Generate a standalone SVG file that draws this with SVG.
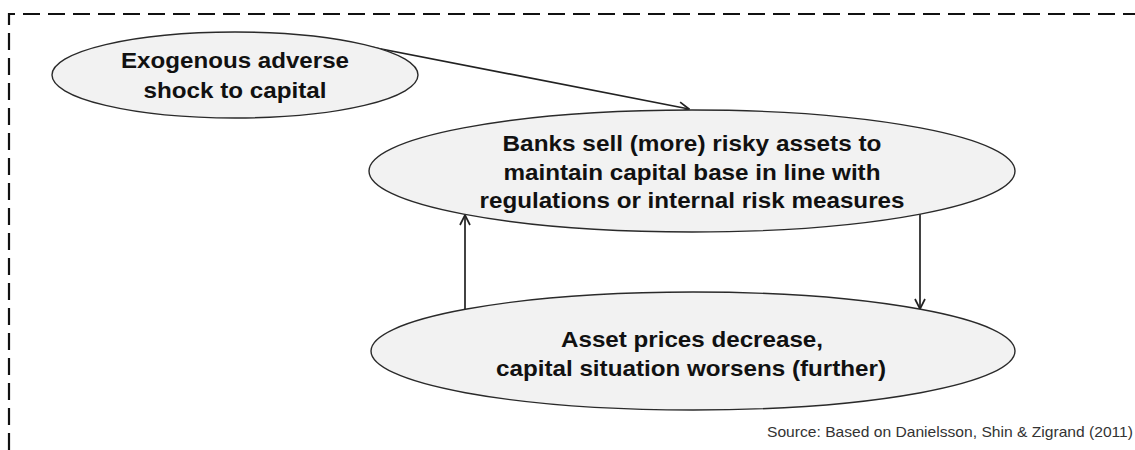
<svg xmlns="http://www.w3.org/2000/svg" width="1135" height="450" viewBox="0 0 1135 450">
  <style>
    .node ellipse { fill: #f2f2f2; stroke: #2a2a2a; stroke-width: 1.4; }
    .label { font-family: "Liberation Sans", Arial, sans-serif; font-size: 22px; font-weight: bold; fill: #111; text-anchor: middle; }
    .edge { stroke: #222; stroke-width: 1.7; fill: none; }
    .frame { stroke: #111; stroke-width: 2.2; fill: none; stroke-dasharray: 17 8; }
    .source { font-family: "Liberation Sans", Arial, sans-serif; font-size: 15px; fill: #333; text-anchor: end; }
  </style>
  <defs>
    <marker id="arrow" markerUnits="userSpaceOnUse" markerWidth="12" markerHeight="12" viewBox="0 0 12 12" refX="11" refY="6" orient="auto">
      <path d="M1,1 L11,6 L1,11" fill="none" stroke="#222" stroke-width="1.7"/>
    </marker>
  </defs>

  <rect width="1135" height="450" fill="#fff"/>

  <!-- dashed frame: left and top sides -->
  <path class="frame" d="M9,450 L9,14 L1135,14"/>

  <g id="connectors">
    <line class="edge" x1="330" y1="39" x2="689" y2="109" marker-end="url(#arrow)"/>
    <line class="edge" x1="920" y1="213" x2="920" y2="309" marker-end="url(#arrow)"/>
    <line class="edge" x1="465" y1="310" x2="465" y2="215" marker-end="url(#arrow)"/>
  </g>

  <g id="shock" class="node">
    <ellipse cx="235" cy="75" rx="183" ry="43"/>
    <text class="label" x="235" y="68" textLength="228" lengthAdjust="spacingAndGlyphs">Exogenous adverse</text>
    <text class="label" x="235" y="98" textLength="183" lengthAdjust="spacingAndGlyphs">shock to capital</text>
  </g>

  <g id="banks-sell" class="node">
    <ellipse cx="692" cy="171" rx="323" ry="61"/>
    <text class="label" x="692" y="151" textLength="379" lengthAdjust="spacingAndGlyphs">Banks sell (more) risky assets to</text>
    <text class="label" x="692" y="180" textLength="377" lengthAdjust="spacingAndGlyphs">maintain capital base in line with</text>
    <text class="label" x="692" y="208" textLength="425" lengthAdjust="spacingAndGlyphs">regulations or internal risk measures</text>
  </g>

  <g id="prices-fall" class="node">
    <ellipse cx="693" cy="351" rx="322" ry="59"/>
    <text class="label" x="692" y="347" textLength="262" lengthAdjust="spacingAndGlyphs">Asset prices decrease,</text>
    <text class="label" x="691" y="376" textLength="390" lengthAdjust="spacingAndGlyphs">capital situation worsens (further)</text>
  </g>

  <text class="source" x="1133" y="437" textLength="366" lengthAdjust="spacingAndGlyphs">Source: Based on Danielsson, Shin &amp; Zigrand (2011)</text>
</svg>
